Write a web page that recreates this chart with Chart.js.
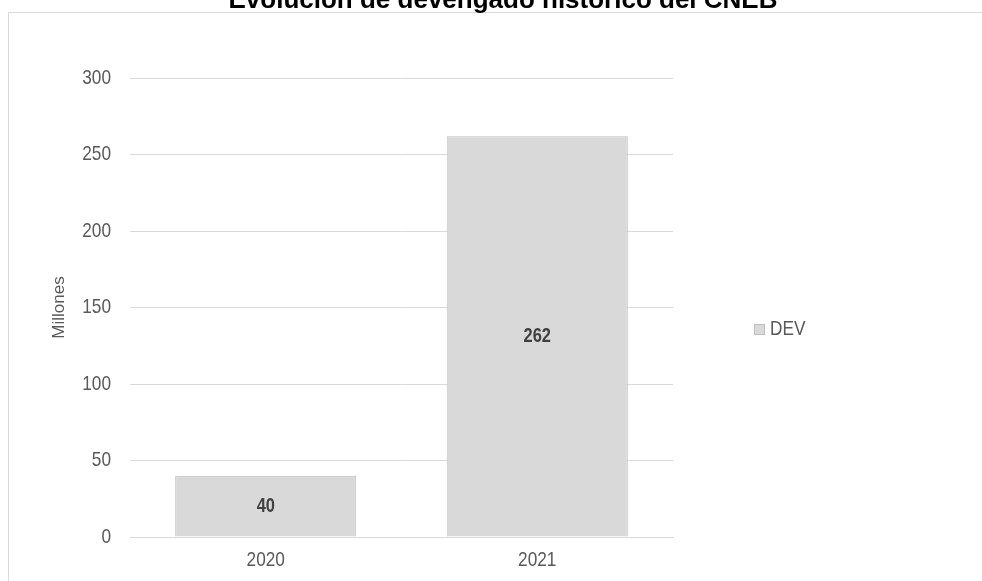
<!DOCTYPE html>
<html>
<head>
<meta charset="utf-8">
<script src="https://cdn.jsdelivr.net/npm/chart.js@4.4.1/dist/chart.umd.min.js"></script>
<style>
  html, body { margin: 0; padding: 0; background: #ffffff; }
  #wrap { position: relative; width: 982px; height: 581px; overflow: hidden; }
</style>
</head>
<body>
<div id="wrap"><canvas id="c" width="982" height="581"></canvas></div>
<script>
const chartTitle = 'Evolución de devengado histórico del CNEB';
const categories = ['2020', '2021'];
const seriesName = 'DEV';
const devValues = [40, 262];
const yTicks = [0, 50, 100, 150, 200, 250, 300];
const yAxisTitle = 'Millones';

const SANS = '"Liberation Sans", Arial, sans-serif';
const NARROW = 0.82;          // horizontal squeeze giving a narrow face
const TEXT_GREY = '#595959';

// Draw text squeezed horizontally around its anchor point
function narrowText(ctx, text, x, y, font, color, align, sx) {
  ctx.save();
  ctx.font = font;
  ctx.fillStyle = color;
  ctx.textAlign = align;
  ctx.textBaseline = 'middle';
  ctx.translate(x, y);
  ctx.scale(sx, 1);
  ctx.fillText(text, 0, 0);
  ctx.restore();
}

// Outer frame and the title sitting above it
const framePlugin = {
  id: 'frame',
  beforeDraw(chart) {
    const ctx = chart.ctx;
    ctx.save();
    ctx.strokeStyle = '#d9d9d9';
    ctx.lineWidth = 1;
    ctx.beginPath();
    ctx.moveTo(8.5, 590);
    ctx.lineTo(8.5, 12.5);
    ctx.lineTo(990, 12.5);
    ctx.stroke();
    ctx.fillStyle = '#000000';
    ctx.font = 'bold 26px ' + SANS;
    ctx.textAlign = 'center';
    ctx.textBaseline = 'alphabetic';
    ctx.fillText(chartTitle, 503, 8);
    ctx.restore();
  }
};

// Axis tick labels placed from the chart's own scales
const tickLabelPlugin = {
  id: 'tickLabels',
  afterDraw(chart) {
    const ctx = chart.ctx;
    const ys = chart.scales.y;
    const xs = chart.scales.x;
    const area = chart.chartArea;
    yTicks.forEach(v => {
      narrowText(ctx, String(v), area.left - 19, ys.getPixelForValue(v),
        '21px ' + SANS, TEXT_GREY, 'right', NARROW);
    });
    chart.data.labels.forEach((lab, i) => {
      narrowText(ctx, lab, xs.getPixelForTick(i), area.bottom + 23,
        '21px ' + SANS, TEXT_GREY, 'center', NARROW);
    });
  }
};

// Value labels centred in each bar
const valueLabelPlugin = {
  id: 'valueLabels',
  afterDatasetsDraw(chart) {
    const ctx = chart.ctx;
    const meta = chart.getDatasetMeta(0);
    meta.data.forEach((bar, i) => {
      const v = chart.data.datasets[0].data[i];
      narrowText(ctx, String(v), bar.x, (bar.y + bar.base) / 2,
        'bold 20px ' + SANS, '#404040', 'center', NARROW);
    });
  }
};

// Single-entry legend to the right of the plot
const legendPlugin = {
  id: 'sideLegend',
  afterDraw(chart) {
    const ctx = chart.ctx;
    const ds = chart.data.datasets[0];
    const area = chart.chartArea;
    const yMid = 329.5;
    const x = area.right + 81;
    ctx.save();
    ctx.fillStyle = ds.backgroundColor;
    ctx.strokeStyle = ds.borderColor;
    ctx.lineWidth = 1;
    ctx.fillRect(x + 0.5, yMid - 5, 10, 10);
    ctx.strokeRect(x + 0.5, yMid - 5, 10, 10);
    ctx.restore();
    narrowText(ctx, ds.label, x + 16, yMid, '21px ' + SANS, TEXT_GREY, 'left', NARROW);
  }
};

new Chart(document.getElementById('c'), {
  type: 'bar',
  data: {
    labels: categories,
    datasets: [{
      label: seriesName,
      data: devValues,
      backgroundColor: '#d9d9d9',
      borderColor: '#bfbfbf',
      borderWidth: 1,
      categoryPercentage: 1.0,
      barPercentage: 0.667
    }]
  },
  options: {
    responsive: false,
    animation: false,
    layout: { padding: { top: 78, right: 309, left: 0, bottom: 0 } },
    plugins: {
      legend: { display: false },
      title: { display: false },
      tooltip: { enabled: false }
    },
    scales: {
      x: {
        grid: { display: false, drawTicks: false },
        border: { color: '#d9d9d9', width: 1 },
        ticks: { display: false },
        afterFit(scale) { scale.height = 44; }
      },
      y: {
        min: 0,
        max: 300,
        afterBuildTicks(scale) { scale.ticks = yTicks.map(v => ({ value: v })); },
        grid: { color: '#d9d9d9', lineWidth: 1, drawTicks: false },
        border: { display: false },
        ticks: { display: false },
        title: {
          display: true,
          text: yAxisTitle,
          color: TEXT_GREY,
          font: { family: SANS, size: 17 },
          padding: { top: 49, bottom: 0 }
        },
        afterFit(scale) { scale.width = 130; }
      }
    }
  },
  plugins: [framePlugin, tickLabelPlugin, valueLabelPlugin, legendPlugin]
});
</script>
</body>
</html>
